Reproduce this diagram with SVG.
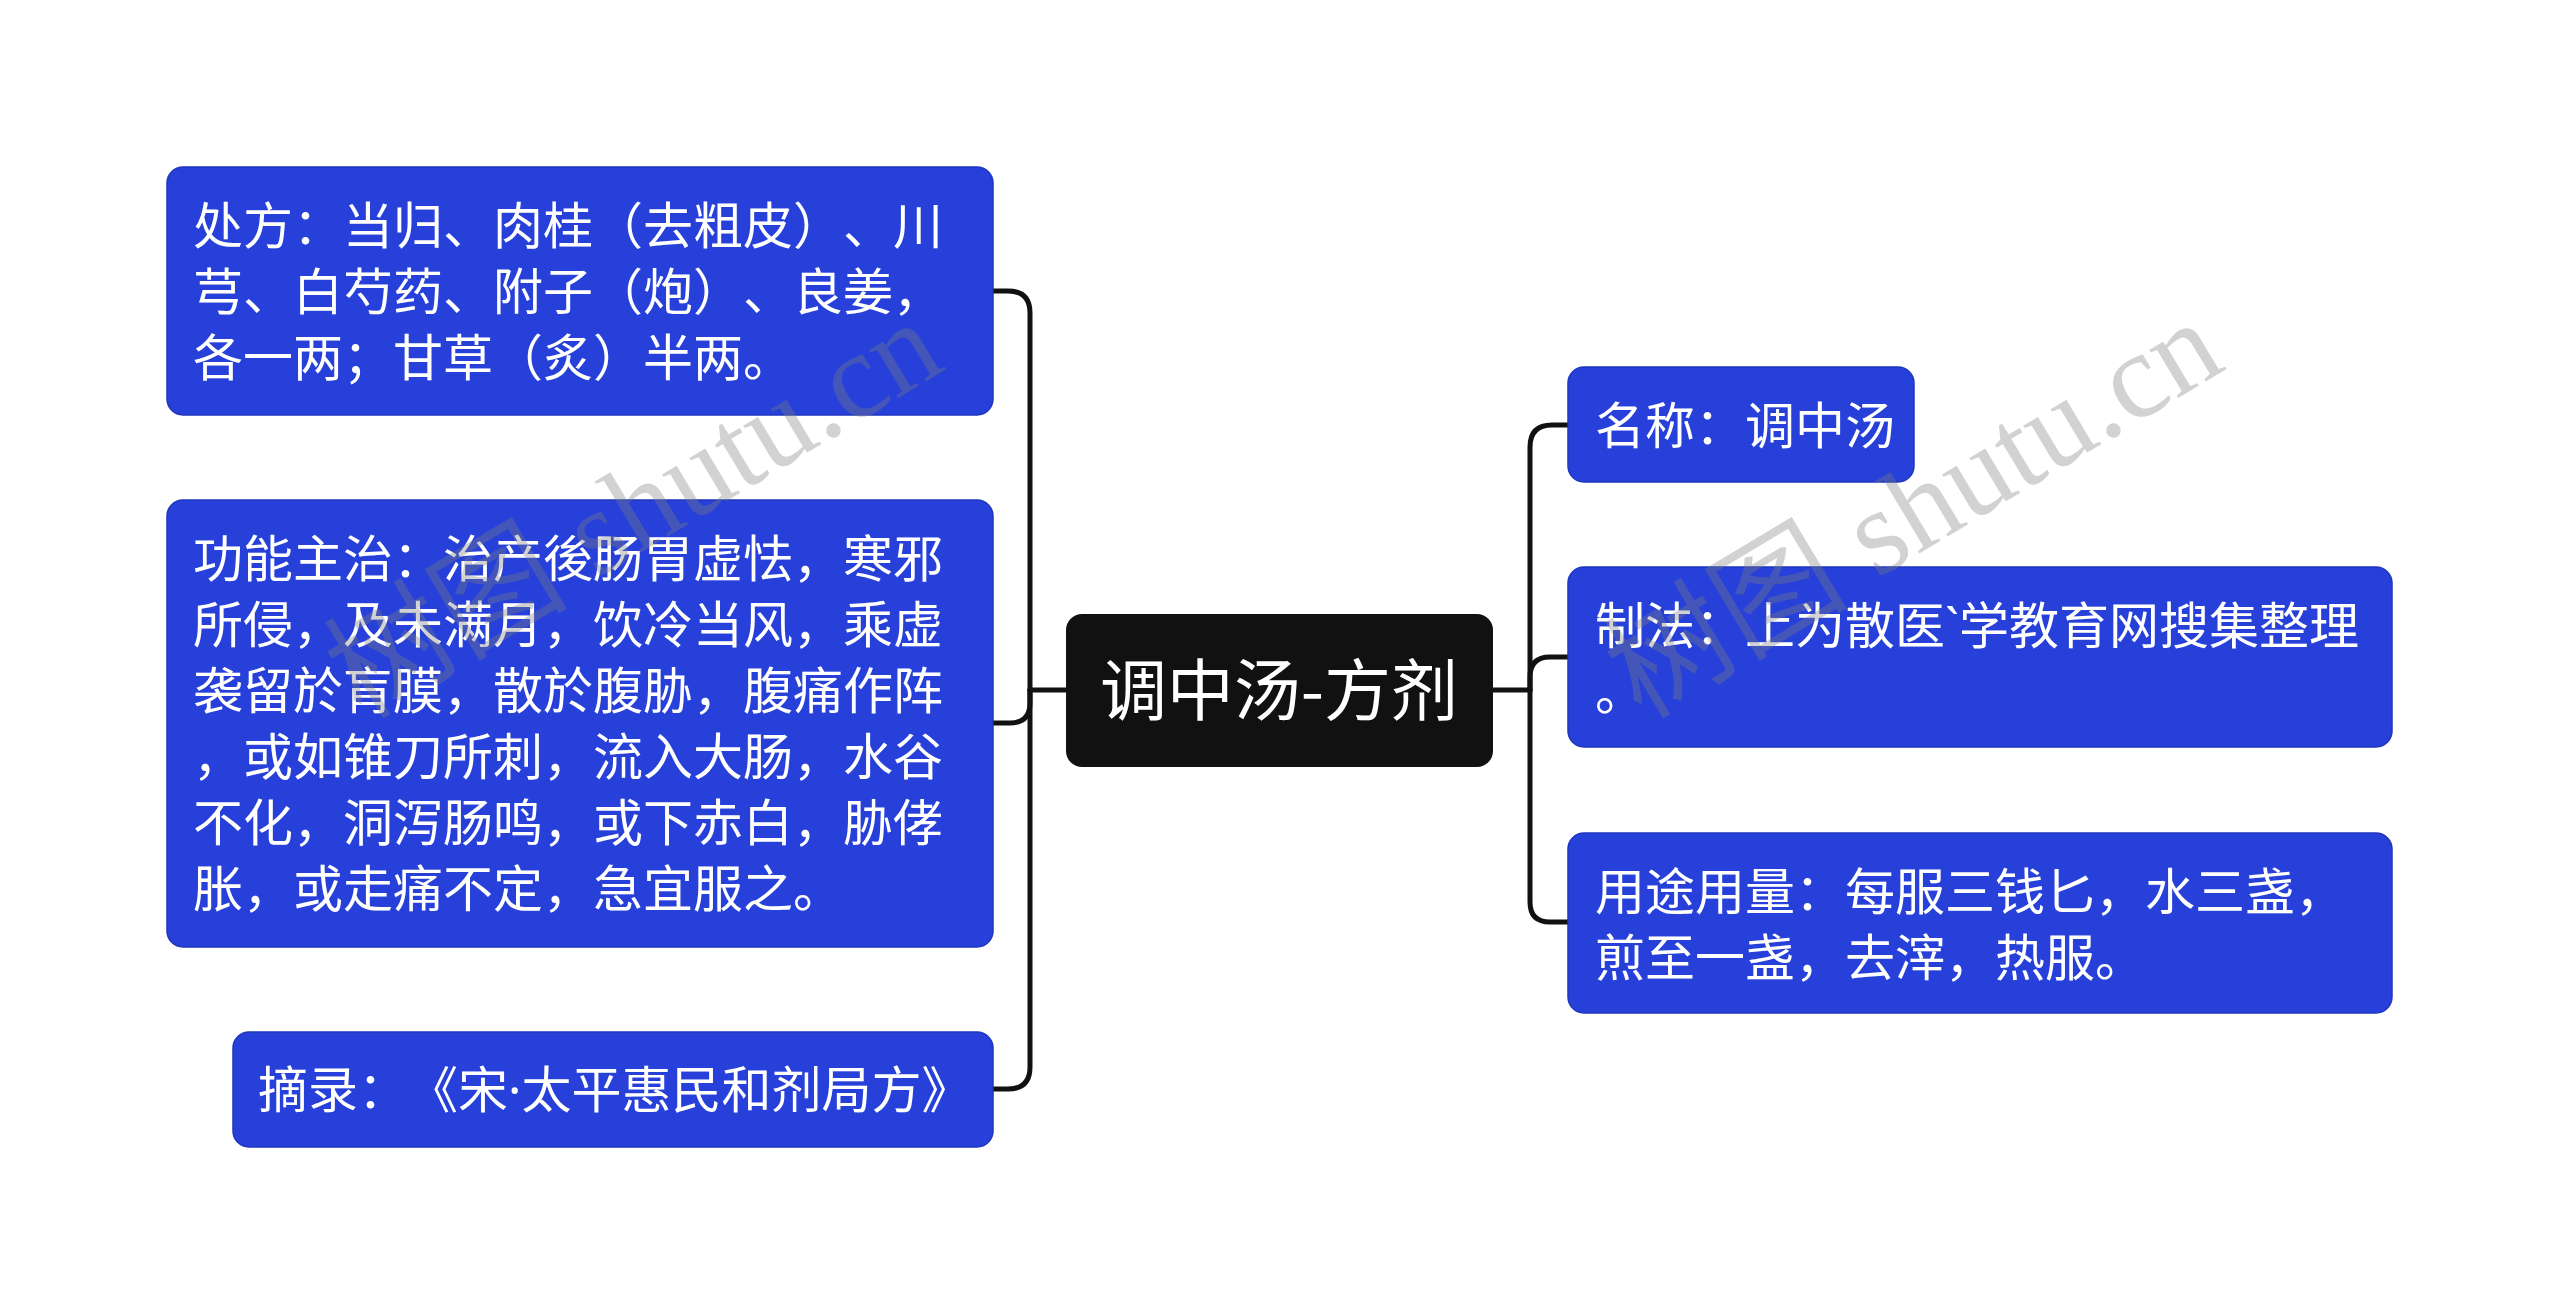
<svg xmlns="http://www.w3.org/2000/svg" width="2560" height="1315" viewBox="0 0 2560 1315">
<style>
.box{fill:#2640D9;stroke:#1E36BE;stroke-width:1.5}
.root{fill:#111111}
.t{font-family:"Noto Sans CJK SC","Noto Sans",sans-serif;font-size:50px;fill:#ffffff;text-spacing-trim:space-all;font-feature-settings:"halt" 0,"chws" 0}
.rt{font-family:"Noto Sans CJK SC","Noto Sans",sans-serif;font-size:67px;fill:#ffffff;text-anchor:middle}
.lat{font-family:"Noto Sans","Liberation Sans",sans-serif}
.c{fill:none;stroke:#111111;stroke-width:5;stroke-linecap:round;stroke-linejoin:round}
.wm{font-family:"Liberation Serif","Noto Sans CJK SC",serif;font-size:122px;fill:#808080;opacity:0.35;text-anchor:end}
</style>
<rect width="2560" height="1315" fill="#ffffff"/>
<g id="connectors">
<path class="c" d="M1066 690 H1030"/>
<path class="c" d="M1030 690 V313 Q1030 291 1008 291 H993"/>
<path class="c" d="M1030 690 V703 Q1030 723 1010 723 H993"/>
<path class="c" d="M1030 690 V1067 Q1030 1089 1008 1089 H993"/>
<path class="c" d="M1493 690 H1530"/>
<path class="c" d="M1530 690 V447 Q1530 425 1552 425 H1568"/>
<path class="c" d="M1530 690 V677 Q1530 657 1550 657 H1568"/>
<path class="c" d="M1530 690 V902 Q1530 922 1550 922 H1568"/>
</g>
<g id="root">
<rect class="root" x="1066" y="614" width="427" height="153" rx="16"/>
<text class="rt" x="1279" y="715">调中汤-方剂</text>
</g>
<g id="node-chufang">
<rect class="box" x="167" y="167" width="826" height="248" rx="16"/>
<text class="t" x="193" y="244">处方：当归、肉桂（去粗皮）、川</text>
<text class="t" x="193" y="310">芎、白芍药、附子（炮）、良姜，</text>
<text class="t" x="193" y="376">各一两；甘草（炙）半两。</text>
</g>
<g id="node-gongneng">
<rect class="box" x="167" y="500" width="826" height="447" rx="16"/>
<text class="t" x="193" y="577">功能主治：治产後肠胃虚怯，寒邪</text>
<text class="t" x="193" y="643">所侵，及未满月，饮冷当风，乘虚</text>
<text class="t" x="193" y="709">袭留於肓膜，散於腹胁，腹痛作阵</text>
<text class="t" x="193" y="775">，或如锥刀所刺，流入大肠，水谷</text>
<text class="t" x="193" y="841">不化，洞泻肠鸣，或下赤白，胁侾</text>
<text class="t" x="193" y="907">胀，或走痛不定，急宜服之。</text>
</g>
<g id="node-zhailu">
<rect class="box" x="233" y="1032" width="760" height="115" rx="16"/>
<text class="t" x="258" y="1108">摘录：《宋<tspan class="lat">·</tspan>太平惠民和剂局方》</text>
</g>
<g id="node-mingcheng">
<rect class="box" x="1568" y="367" width="346" height="115" rx="16"/>
<text class="t" x="1595" y="444">名称：调中汤</text>
</g>
<g id="node-zhifa">
<rect class="box" x="1568" y="567" width="824" height="180" rx="16"/>
<text class="t" x="1595" y="644">制法：上为散医<tspan class="lat">`</tspan>学教育网搜集整理</text>
<text class="t" x="1595" y="710">。</text>
</g>
<g id="node-yongtu">
<rect class="box" x="1568" y="833" width="824" height="180" rx="16"/>
<text class="t" x="1595" y="910">用途用量：每服三钱匕，水三盏，</text>
<text class="t" x="1595" y="976">煎至一盏，去滓，热服。</text>
</g>
<g id="watermark">
<text class="wm" transform="translate(948 368) rotate(-31)">树图 shutu.cn</text>
<text class="wm" transform="translate(2228 368) rotate(-31)">树图 shutu.cn</text>
</g>
</svg>
